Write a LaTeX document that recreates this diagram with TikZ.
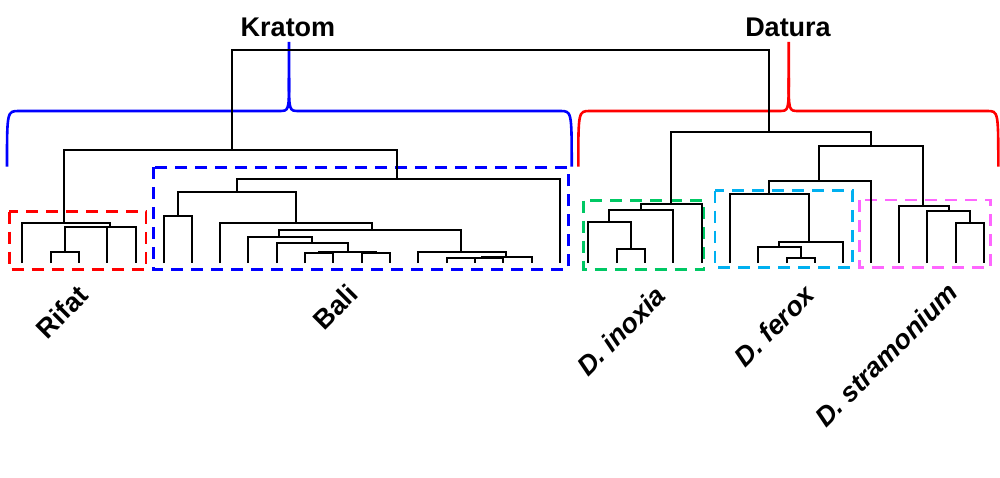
\documentclass[tikz,border=0pt]{standalone}
\usepackage{fontspec}
\setmainfont{Liberation Sans}
\definecolor{bred}{RGB}{255,0,0}
\definecolor{bblue}{RGB}{0,0,255}
\definecolor{bgreen}{RGB}{0,200,100}
\definecolor{bcyan}{RGB}{0,176,240}
\definecolor{bmag}{RGB}{255,102,255}
\newcommand{\lnk}[5]{\draw[dend] (#1,#2) |- (#3,#5) -- (#3,#4);}
\begin{document}
\begin{tikzpicture}[x=1pt,y=-1pt,
  dend/.style={black, line width=1.9pt},
  brace/.style={line width=2.6pt},
  dbox/.style={line width=2.6pt, dash pattern=on 12pt off 8pt},
  lab/.style={font=\fontsize{27}{31}\selectfont\bfseries, inner sep=0pt},
  grp/.style={font=\fontsize{27}{31}\selectfont\bfseries, rotate=45, inner sep=0pt}]
\useasboundingbox (0,0) rectangle (1000,478);
% ---------- dashed group boxes ----------
\draw[dbox, bred]   (9.3,211.7) rectangle (146,269.3);
\draw[dbox, bblue]  (153.3,167.3) rectangle (568.3,269.3);
\draw[dbox, bgreen] (583.3,200.7) rectangle (704,269.3);
\draw[dbox, bcyan]  (715,190.7) rectangle (852.7,267.3);
\draw[dbox, bmag]   (859.3,200) rectangle (990.7,267.3);
% ---------- braces ----------
\draw[brace, bblue] (7,166.7) .. controls (7,111) .. (19,111) -- (279,111)
  .. controls (289,111) .. (289,78) -- (289,42);
\draw[brace, bblue] (289,78) .. controls (289,111) .. (299,111) -- (560,111)
  .. controls (571.7,111) .. (571.7,166.7);
\draw[brace, bred] (578.3,166.7) .. controls (578.3,111) .. (590,111) -- (779,111)
  .. controls (788.7,111) .. (788.7,78) -- (788.7,42);
\draw[brace, bred] (788.7,78) .. controls (788.7,111) .. (798.7,111) -- (987,111)
  .. controls (998.3,111) .. (998.3,166.7);
% ---------- dendrogram: root ----------
\draw[dend] (232,150) -- (232,50) -| (769.3,131.7);
\draw[dend] (64,222.7) |- (397,150) -- (397,179.3);
% Rifat
\lnk{51}{263}{79}{263}{252}
\draw[dend] (65,252) |- (136,227) -- (136,263);
\draw[dend] (107,227) -- (107,263);
\draw[dend] (110,227) -- (110,222.7);
\lnk{22}{263}{110}{227}{222.7}
% Bali
\lnk{164}{263}{192.3}{263}{215.7}
\lnk{178}{215.7}{295.7}{223.3}{192.3}
\lnk{236.7}{192.3}{560}{263}{179.3}
\lnk{220}{263}{371.7}{230}{223.3}
\lnk{279.3}{237.3}{461}{251.7}{230}
\lnk{248.3}{263}{312.3}{243.3}{237.3}
\lnk{276.7}{263}{348.3}{251.7}{243.3}
\lnk{319.2}{253.3}{375.8}{253.3}{251.7}
\lnk{305}{263}{333.3}{263}{253.3}
\lnk{361.7}{263}{390}{263}{253.3}
\lnk{418.3}{263}{506}{256.7}{251.7}
\lnk{481.7}{258.3}{531.7}{263}{256.7}
\lnk{446.7}{263}{503.3}{263}{258.3}
\draw[dend] (475,258.3) -- (475,263);
% Datura
\lnk{670.7}{204}{871}{146}{131.7}
\lnk{819.3}{180.7}{923.3}{206}{146}
\lnk{769.3}{194}{871}{263}{180.7}
\lnk{730}{263}{809.3}{241.7}{194}
\lnk{779.3}{247.3}{843.3}{263}{241.7}
\lnk{758.3}{263}{800.8}{257.7}{247.3}
\lnk{786.7}{263}{815}{263}{257.7}
% D. inoxia
\lnk{641}{210}{701.7}{263}{204}
\lnk{609.3}{221.7}{673.3}{263}{210}
\lnk{588.3}{263}{630.8}{249}{221.7}
\lnk{616.7}{263}{645}{263}{249}
% D. stramonium
\lnk{899.3}{263}{949}{211}{206}
\lnk{927.3}{263}{970}{223.3}{211}
\lnk{955.7}{263}{984.3}{263}{223.3}
% ---------- labels ----------
\node[lab] (kratom) at (288,27) {Kratom};
\node[lab] (datura) at (788,27) {Datura};
\node[grp] (rifat) at (62,312) {Rifat};
\node[grp] (bali) at (335,307) {Bali};
\node[grp] (inoxia) at (621,331) {\itshape D. inoxia};
\node[grp] (ferox) at (774,326) {\itshape D. ferox};
\node[grp] (stram) at (886,355) {\itshape D. stramonium};
\end{tikzpicture}
\end{document}
